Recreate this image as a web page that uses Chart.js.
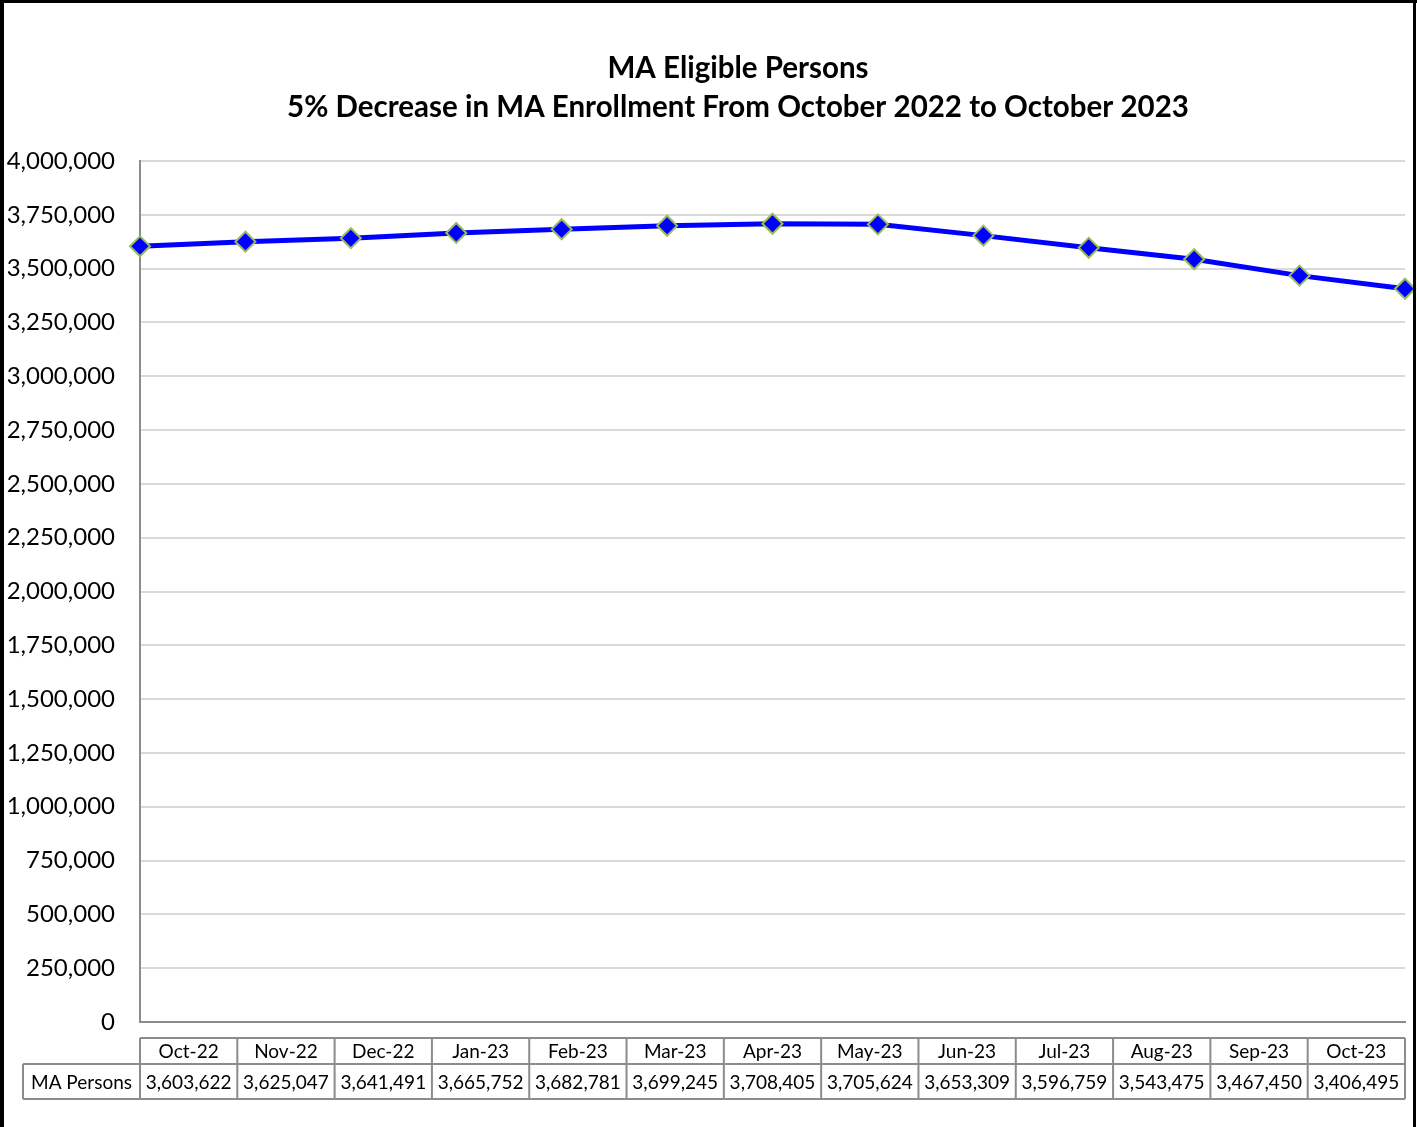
<!DOCTYPE html>
<html>
<head>
<meta charset="utf-8">
<title>MA Eligible Persons</title>
<script src="https://cdn.jsdelivr.net/npm/chart.js@4.4.0/dist/chart.umd.min.js"></script>
<style>
  html, body { margin: 0; padding: 0; background: #fff; }
  #wrap { position: relative; width: 1417px; height: 1127px; }
</style>
</head>
<body>
<div id="wrap"><canvas id="chart" width="1417" height="1127"></canvas></div>
<script>
// --- datos del gráfico ---
const titleLines = ['MA Eligible Persons', '5% Decrease in MA Enrollment From October 2022 to October 2023'];
const months = ['Oct-22', 'Nov-22', 'Dec-22', 'Jan-23', 'Feb-23', 'Mar-23', 'Apr-23', 'May-23', 'Jun-23', 'Jul-23', 'Aug-23', 'Sep-23', 'Oct-23'];
const maPersons = [3603622, 3625047, 3641491, 3665752, 3682781, 3699245, 3708405, 3705624, 3653309, 3596759, 3543475, 3467450, 3406495];
const seriesName = 'MA Persons';
const yMin = 0;
const yMax = 4000000;
const yStep = 250000;

const fmt = v => Number(v).toLocaleString('en-US');
const FONT = 'Lato, "Open Sans", sans-serif';

// Titulo en dos lineas (dibujado a mano para centrarlo como el original)
const titlePlugin = {
    id: 'titleLines',
    afterDraw(chart) {
        const c = chart.ctx;
        c.save();
        c.fillStyle = '#000';
        c.font = 'bold 29.5px ' + FONT;
        c.textAlign = 'center';
        c.textBaseline = 'middle';
        c.fillText(titleLines[0], 738, 68);
        c.fillText(titleLines[1], 738, 107);
        c.restore();
    }
};

// Tabla de datos debajo del eje
const tablePlugin = {
    id: 'dataTable',
    afterDraw(chart) {
        const c = chart.ctx;
        const area = chart.chartArea;
        const left = area.left, right = area.right;
        const colW = (right - left) / months.length;
        const top = 1038, mid = 1064, bottom = 1099, labelLeft = 23;

        c.save();
        c.strokeStyle = '#8c8c8c';
        c.lineWidth = 2;
        // lineas horizontales
        c.beginPath();
        c.moveTo(left, top); c.lineTo(right, top);
        c.moveTo(labelLeft, mid); c.lineTo(right, mid);
        c.moveTo(labelLeft, bottom); c.lineTo(right, bottom);
        // verticales
        c.moveTo(labelLeft, mid); c.lineTo(labelLeft, bottom);
        for (let i = 0; i <= months.length; i++) {
            const x = left + i * colW;
            c.moveTo(x, top); c.lineTo(x, bottom);
        }
        c.stroke();

        c.fillStyle = '#000';
        c.font = '19px ' + FONT;
        c.textAlign = 'center';
        c.textBaseline = 'middle';
        months.forEach((m, i) => {
            const cx = left + (i + 0.5) * colW;
            c.fillText(m, cx, (top + mid) / 2 + 1);
            c.fillText(fmt(maPersons[i]), cx, (mid + bottom) / 2 + 1);
        });
        c.fillText(seriesName, (labelLeft + left) / 2, (mid + bottom) / 2 + 1);
        c.restore();
    }
};

// Borde negro del marco del gráfico
const framePlugin = {
    id: 'frame',
    afterDraw(chart) {
        const c = chart.ctx;
        c.save();
        c.fillStyle = '#000';
        c.fillRect(0, 0, 4, chart.height);
        c.fillRect(0, 0, chart.width, 3);
        c.fillRect(1413, 0, 3, chart.height);
        c.restore();
    }
};

new Chart(document.getElementById('chart'), {
    type: 'line',
    data: {
        labels: months,
        datasets: [{
            label: seriesName,
            data: maPersons,
            borderColor: '#0000ff',
            backgroundColor: '#0000ff',
            borderWidth: 5,
            tension: 0,
            pointStyle: 'rectRot',
            pointRadius: 10,
            pointHoverRadius: 10,
            pointBackgroundColor: '#0000ff',
            pointBorderColor: '#9bbb59',
            pointBorderWidth: 2,
            clip: false
        }]
    },
    options: {
        responsive: false,
        animation: false,
        events: [],
        layout: { padding: { left: 0, right: 12, top: 161, bottom: 0 } },
        plugins: {
            legend: { display: false },
            title: { display: false },
            tooltip: { enabled: false }
        },
        scales: {
            x: {
                type: 'category',
                offset: false,
                grid: { display: false },
                border: { display: true, color: '#8c8c8c', width: 2 },
                ticks: { display: false },
                afterFit: s => { s.height = 105; }
            },
            y: {
                min: yMin,
                max: yMax,
                grid: { color: '#d9d9d9', lineWidth: 2, drawTicks: false },
                border: { display: true, color: '#8c8c8c', width: 2 },
                ticks: {
                    stepSize: yStep,
                    padding: 25,
                    color: '#000',
                    font: { family: FONT, size: 24 },
                    callback: v => fmt(v)
                },
                afterFit: s => { s.width = 140; }
            }
        }
    },
    plugins: [titlePlugin, tablePlugin, framePlugin]
});
</script>
</body>
</html>
